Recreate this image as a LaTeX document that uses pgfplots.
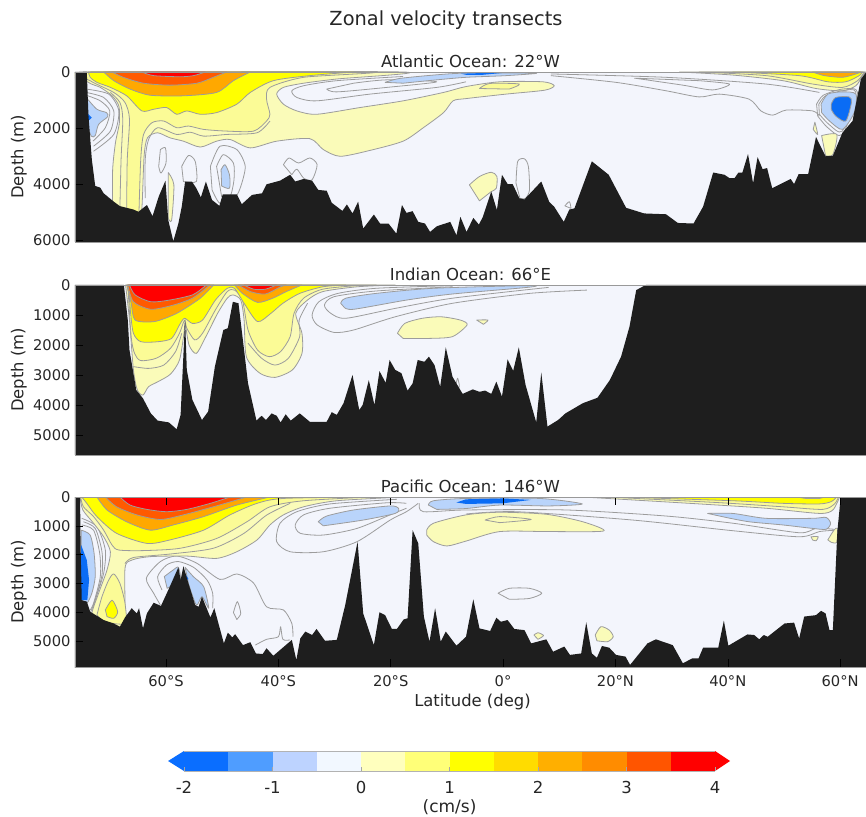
\documentclass[border=0pt]{standalone}
\usepackage{fontspec}
\setmainfont{DejaVu Sans}
\usepackage{pgfplots}
\pgfplotsset{compat=1.18}
\definecolor{bgc}{HTML}{F3F5FC}
\definecolor{yA}{HTML}{FAFBB9}
\definecolor{yB}{HTML}{FBFB96}
\definecolor{yC}{HTML}{FFFF00}
\definecolor{oA}{HTML}{FFA800}
\definecolor{oB}{HTML}{FF5A00}
\definecolor{rA}{HTML}{FF0000}
\definecolor{bA}{HTML}{B9D4FB}
\definecolor{bB}{HTML}{0A6CF5}
\definecolor{land}{HTML}{1E1E1E}
\definecolor{cont}{HTML}{9C9C9C}
\definecolor{txt}{HTML}{262626}
\newcommand{\reg}[2]{\addplot[forget plot,smooth,tension=0.45,fill=#1,draw=cont,line width=0.8pt,line join=round] coordinates {#2} -- cycle;}
\newcommand{\ctr}[1]{\addplot[forget plot,smooth,tension=0.45,draw=cont,line width=0.8pt,line join=round] coordinates {#1};}
\newcommand{\closedctr}[1]{\addplot[forget plot,smooth,tension=0.45,draw=cont,line width=0.8pt,line join=round] coordinates {#1} -- cycle;}
\newcommand{\landreg}[1]{\addplot[forget plot,fill=land,draw=none] coordinates {#1} -- cycle;}
\newcommand{\cell}[3]{\addplot[forget plot,fill=#1,draw=none] coordinates {(#2,0) (#3,0) (#3,1) (#2,1)} -- cycle;}
\pgfplotsset{
  panel/.style={
    scale only axis, width=791pt, height=170pt,
    xmin=-76.2, xmax=64.6, ymin=0, y dir=reverse,
    axis on top,
    axis background/.style={fill=bgc},
    axis line style={draw=gray!80,line width=0.6pt},
    tick style={draw=black,line width=0.5pt},
    tick align=inside, major tick length=8pt,
    ytick pos=left,
    scaled y ticks=false,
    /pgf/number format/1000 sep={},
    /pgf/number format/assume math mode=true,
    tick label style={font=\fontsize{14.7}{16}\selectfont,text=txt},
    label style={font=\fontsize{16.4}{18}\selectfont,text=txt},
    title style={font=\fontsize{16.5}{18}\selectfont,text=txt,yshift=-5.5pt},
    ylabel={Depth (m)},
    ylabel style={at={(axis description cs:-0.071,0.5)},anchor=center},
    yticklabel style={xshift=-1pt},
  }
}
\begin{document}
\begin{tikzpicture}
\path[use as bounding box] (0,0) rectangle (866pt,816pt);
\node[font=\fontsize{19.4}{21}\selectfont,text=txt] at (446pt,796pt) {Zonal velocity transects};

%%%%%%%%%%%%%%%% ATLANTIC
\begin{axis}[panel, at={(75pt,574pt)}, anchor=south west, ymax=6070,
  title={Atlantic Ocean: 22°W}, xtick=\empty, ytick={0,2000,4000,6000}]
\reg{yA}{(-69.5,4810)(-69.5,3490)(-69.0,2530)(-68.3,1810)(-68.4,1210)(-69.6,850)(-71.7,550)(-73.8,370)(-74.1,0)(-17.8,0)(-29.6,250)(-35.5,400)(-39.1,550)(-40.3,790)(-39.1,1150)(-36.7,1390)(-33.2,1510)(-25.5,1270)(-17.8,1030)(-10.6,730)(-6.6,520)(-0.6,350)(7.1,350)(9.1,490)(7.4,650)(0.5,790)(-6.6,950)(-8.9,1030)(-10.6,1450)(-14.2,1990)(-17.8,2470)(-23.7,2800)(-29.0,3010)(-32.0,2770)(-34.4,2380)(-40.3,2470)(-45.0,2710)(-48.6,2410)(-51.0,2470)(-53.9,2680)(-56.9,2470)(-59.3,2350)(-61.5,2170)(-63.3,2350)(-63.9,3010)(-64.3,4870)(-64.9,5100)(-69.5,5100)}
\ctr{(-68.2,4810)(-68.0,3130)(-67.7,1690)(-68.2,1090)(-69.9,730)}
\reg{yA}{(-59.6,3590)(-58.6,4030)(-59.0,5290)(-59.6,5230)}
\reg{yB}{(-67.0,4870)(-66.9,3130)(-66.5,1690)(-67.3,1090)(-69.3,730)(-73.5,310)(-74.1,0)(-23.7,0)(-35.5,190)(-41.5,550)(-42.1,970)(-41.5,1510)(-42.1,1750)(-44.4,2110)(-49.2,2110)(-53.3,2050)(-56.0,1930)(-58.1,1990)(-60.4,1750)(-62.5,1810)(-64.0,2230)(-64.5,3130)(-64.8,4930)(-64.8,5100)(-67.0,5100)}
\ctr{(-63.7,4500)(-63.7,3130)(-63.1,2410)(-61.5,1990)(-58.1,2230)(-55.7,2150)(-53.3,2290)(-49.2,2230)(-43.8,2170)(-41.5,1750)}
\reg{yC}{(-73.8,0)(-73.5,190)(-72.3,370)(-69.9,550)(-67.0,850)(-64.3,1390)(-62.2,1330)(-59.9,1270)(-58.1,1510)(-56.3,1390)(-53.9,1510)(-51.0,1450)(-47.4,1150)(-45.0,730)(-40.9,310)(-34.4,130)(-26.6,0)}
\reg{oA}{(-71.1,0)(-69.3,310)(-66.4,610)(-62.8,830)(-56.9,850)(-51.0,730)(-48.0,310)(-45.0,0)}
\reg{oB}{(-69.6,0)(-67.6,190)(-64.0,400)(-59.3,470)(-54.5,400)(-51.6,190)(-49.2,0)}
\reg{rA}{(-64.3,0)(-62.2,130)(-57.5,170)(-55.1,130)(-53.0,0)}
\ctr{(-6.6,350)(-11.8,550)(-23.7,790)(-33.2,1030)(-36.7,910)(-37.6,670)(-35.5,490)(-29.6,310)(-17.8,160)}
\closedctr{(-31.4,610)(-29.6,710)(-20.7,550)(-11.8,350)(-20.7,280)(-26.6,400)}
\reg{bA}{(-21.0,370)(-18.4,230)(-11.8,100)(-6.6,40)(5.9,40)(0.5,130)(-6.6,190)(-11.8,280)(-17.8,400)}
\addplot[forget plot,fill=bB,draw=none] coordinates {(-7.5,60)(1.1,10)(-3.6,100)(-6.6,100)} -- cycle;
\reg{yB}{(-4.2,590)(-2.4,410)(2.9,430)(1.1,610)}
\ctr{(-74.2,610)(-70.2,790)(-68.4,1390)(-69.3,2230)(-72.9,2830)}
\ctr{(-74.2,730)(-71.1,910)(-69.3,1390)(-69.9,2110)(-72.9,2650)}
\ctr{(-74.2,830)(-71.7,1030)(-70.0,1390)(-70.8,1990)(-73.0,2470)}
\reg{bA}{(-74.2,910)(-72.3,1330)(-70.6,1450)(-70.4,1600)(-72.0,1870)(-72.6,2270)(-73.3,2290)(-74.2,1810)}
\addplot[forget plot,fill=bB,draw=none] coordinates {(-74.2,1430)(-73.2,1630)(-74.2,1810)} -- cycle;
\closedctr{(-61.0,2770)(-60.1,2710)(-60.0,3250)(-60.9,3610)(-61.3,3370)}
\closedctr{(-57.2,3370)(-56.0,2980)(-54.8,3190)(-54.6,3910)(-56.9,3910)}
\closedctr{(-52.1,3370)(-50.4,2650)(-47.4,2770)(-45.9,3370)(-46.8,4150)(-48.0,4570)(-50.4,4690)(-51.8,4210)}
\closedctr{(-51.0,3370)(-49.8,2950)(-48.0,3250)(-47.9,3850)(-48.6,4450)(-50.1,4450)}
\reg{bA}{(-50.2,3490)(-49.5,3310)(-48.7,3670)(-48.7,4150)(-50.1,4070)}
\closedctr{(-39.1,3310)(-38.1,3070)(-36.4,3250)(-34.4,3070)(-33.1,3310)(-34.0,3850)(-35.5,3790)(-36.7,3470)(-37.6,3670)}
\ctr{(8.5,70)(29,190)(46.8,430)(56.3,730)}
\ctr{(8.5,130)(20.1,370)(29.0,670)(34.9,890)(38.5,790)(43.8,970)(45.9,1390)(48.0,1540)(50.4,1360)(55.1,1390)(56.3,1570)}
\closedctr{(23.4,220)(32.0,470)(37.3,640)(40.3,430)(34.9,310)}
\reg{yA}{(31.4,0)(40.9,110)(49.8,310)(55.7,590)(60.4,670)(62.8,490)(64.0,130)(64.6,0)}
\reg{yB}{(34.9,0)(46.8,130)(55.1,430)(60.4,550)(63.1,310)(64.3,0)}
\reg{yC}{(40.9,0)(52.7,130)(57.8,350)(61.0,350)(63.4,130)(64.0,0)}
\reg{oA}{(55.1,0)(57.2,130)(60.4,190)(62.8,70)(63.7,0)}
\closedctr{(55.8,1150)(57.0,830)(60.4,610)(63.1,730)(60.4,2230)(57.8,1990)(56.0,1570)}
\closedctr{(56.2,1150)(57.4,850)(60.4,670)(62.8,730)(60.4,2110)(58.0,1870)(56.3,1510)}
\reg{bA}{(56.6,1150)(57.8,790)(60.4,710)(62.8,790)(62.5,1450)(60.4,2050)(58.1,1750)(56.7,1450)}
\reg{bB}{(58.4,1150)(59.2,910)(61.6,890)(62.0,1090)(61.0,1750)(59.2,1570)(58.4,1330)}
\reg{yA}{(55.5,1790)(56.0,2230)(55.2,2050)}
\reg{yA}{(56.7,2270)(59.4,2230)(58.7,2950)(57.4,2990)}
\closedctr{(2.3,3970)(2.6,3190)(3.8,3100)(4.5,3370)(4.7,4210)(4.0,4510)(3.0,4510)}
\reg{yA}{(-6.0,4030)(-4.2,3730)(-2.1,3580)(-1.1,3730)(-1.2,4150)(-2.1,4270)(-4.2,4600)}
\closedctr{(11.0,4780)(11.8,4630)(12.1,4870)}
\landreg{(-76.2,6200)(-76.2,0)(-74.1,0)(-73.8,1570)(-73.2,3130)(-72.6,4070)(-71.7,4130)(-71.1,4330)(-69.3,4630)(-68.2,4790)(-65.8,4910)(-64.9,4990)(-63.4,4750)(-62.4,5150)(-61.3,4450)(-60.1,3880)(-59.6,5290)(-58.7,6040)(-57.8,5410)(-57.2,4810)(-56.6,3910)(-55.4,3910)(-54.6,4150)(-53.8,4480)(-52.9,3910)(-51.8,4570)(-50.5,4780)(-49.9,4370)(-47.4,4370)(-46.5,4720)(-44.7,4390)(-42.9,4330)(-42.1,4010)(-39.7,3880)(-37.9,3670)(-37.0,3910)(-35.5,3820)(-34.0,3880)(-32.9,4210)(-31.4,4240)(-30.5,4670)(-28.6,4960)(-27.8,4730)(-26.8,5050)(-25.8,4630)(-24.9,5590)(-23.0,5090)(-21.9,5410)(-20.4,5410)(-19.0,5770)(-18.0,4750)(-17.2,5030)(-16.1,4970)(-15.1,5350)(-13.9,5410)(-13.0,5710)(-11.8,5510)(-9.4,5350)(-8.3,5830)(-7.6,5170)(-6.5,5710)(-5.3,5210)(-4.3,5450)(-3.6,5170)(-2.1,4270)(-1.1,4930)(-0.2,3670)(0.8,4000)(1.7,4000)(2.9,4510)(3.8,4550)(6.8,3910)(8.2,4630)(9.1,4810)(10.8,5350)(11.8,4910)(12.7,4870)(15.8,3190)(18.8,3670)(21.9,4850)(25.1,5050)(29.0,5080)(31.1,5390)(33.9,5410)(35.6,4810)(37.4,3590)(39.4,3670)(40.3,3790)(41.2,3790)(41.9,3590)(42.6,3590)(43.6,2930)(44.5,3970)(45.3,3040)(46.2,3470)(47.0,3430)(47.9,4150)(51.2,3820)(51.8,4000)(52.6,3650)(54.3,3650)(55.7,2320)(57.4,3010)(58.7,2990)(60.4,2170)(62.2,1750)(63.7,250)(64.6,10)(64.7,6200)}
\end{axis}

%%%%%%%%%%%%%%%% INDIAN
\begin{axis}[panel, at={(75pt,361pt)}, anchor=south west, ymax=5667,
  title={Indian Ocean: 66°E}, xtick=\empty, ytick={0,1000,2000,3000,4000,5000}]
\ctr{(8.1,80)(-9.0,440)(-19.2,780)(-28.0,1110)(-30.7,940)(-31.8,670)(-30.1,390)(-22.6,200)(-9.0,60)}
\ctr{(14.9,170)(4.7,280)(-9.0,610)(-19.2,1060)(-26.6,1500)(-30.1,1580)(-33.1,1330)(-34.0,1000)(-32.8,560)(-29.4,280)(-22.6,110)(-9.0,20)}
\reg{yA}{(-67.2,0)(-66.5,1170)(-65.8,2830)(-65.1,3500)(-64.1,3670)(-63.1,3390)(-61.4,3220)(-59.2,2970)(-57.6,2500)(-56.8,1610)(-56.6,1280)(-55.9,2000)(-54.6,2280)(-52.9,1720)(-50.8,940)(-49.1,440)(-48.1,330)(-46.7,500)(-46.1,1170)(-45.7,2390)(-43.3,2940)(-40.6,3080)(-37.5,2830)(-35.8,2280)(-35.8,1610)(-36.9,940)(-34.8,500)(-32.1,220)(-26.0,60)(-19.2,0)}
\ctr{(-65.8,2720)(-63.1,2780)(-60.4,2670)(-58.3,2220)(-57.2,1610)}
\ctr{(-45.4,1940)(-43.0,2440)(-40.6,2670)(-38.2,2440)(-36.2,1720)(-36.3,1170)(-34.8,610)}
\reg{yB}{(-66.8,0)(-66.2,1720)(-65.6,2280)(-64.5,2520)(-61.7,2440)(-59.2,2110)(-57.6,1610)(-56.7,1170)(-56.3,1440)(-54.9,1830)(-53.5,1610)(-51.2,830)(-49.1,220)(-47.8,170)(-46.4,500)(-45.4,1500)(-43.7,2170)(-41.6,2390)(-39.6,2220)(-37.9,1720)(-37.2,940)(-35.5,440)(-32.1,140)(-26.0,20)(-22.6,0)}
\reg{yC}{(-66.7,0)(-66.3,940)(-65.8,1610)(-64.5,1890)(-61.4,1890)(-59.0,1780)(-57.6,1330)(-56.7,1110)(-55.3,1280)(-53.5,1170)(-51.2,500)(-49.1,110)(-47.8,110)(-46.1,610)(-43.7,1220)(-41.3,940)(-39.2,610)(-36.2,280)(-32.1,60)(-28.0,0)}
\reg{oA}{(-67.0,0)(-66.2,610)(-65.5,1170)(-62.1,1220)(-58.7,1000)(-56.6,780)(-53.9,440)(-51.5,0)}
\reg{oA}{(-47.8,0)(-46.4,280)(-43.7,580)(-41.0,440)(-38.6,220)(-35.8,0)}
\reg{oB}{(-66.8,0)(-65.8,560)(-62.7,810)(-58.7,670)(-55.3,440)(-52.9,110)(-52.2,0)}
\reg{oB}{(-47.1,0)(-45.0,220)(-42.3,300)(-39.6,60)(-38.6,0)}
\reg{rA}{(-66.5,0)(-65.5,330)(-62.7,560)(-59.3,500)(-55.3,330)(-53.2,60)(-52.9,0)}
\reg{rA}{(-46.1,0)(-44.4,140)(-42.3,140)(-40.3,0)}
\reg{bA}{(-28.9,610)(-28.0,440)(-22.6,280)(-12.4,110)(4.7,20)(4.3,80)(-9.0,300)(-17.1,500)(-26.6,810)(-28.3,740)}
\reg{yA}{(-18.8,1610)(-17.5,1280)(-14.4,1110)(-11.0,1060)(-7.6,1170)(-6.4,1330)(-9.0,1720)(-13.0,1780)(-17.8,1780)}
\reg{yA}{(-4.7,1170)(-2.7,1170)(-3.5,1310)}
\closedctr{(-8.4,3330)(-8.1,3110)(-7.8,3330)(-7.9,3480)}
\landreg{(-76.2,5800)(-76.2,0)(-67.5,0)(-66.8,1170)(-66.5,2170)(-65.3,3500)(-64.1,3780)(-62.7,4280)(-61.5,4520)(-59.5,4580)(-58.1,4810)(-57.4,4330)(-56.6,1110)(-56.3,2830)(-55.3,3830)(-53.6,4500)(-52.5,4220)(-51.3,2720)(-49.8,1500)(-49.0,1440)(-48.1,560)(-47.1,610)(-46.1,2170)(-45.4,3280)(-43.9,4520)(-43.0,4360)(-42.2,4500)(-41.2,4280)(-40.3,4360)(-39.6,4580)(-38.7,4310)(-37.8,4520)(-36.2,4280)(-34.4,4560)(-31.4,4560)(-30.5,4240)(-29.6,4330)(-28.4,3940)(-26.8,3000)(-25.6,4170)(-25.0,4000)(-23.9,3170)(-22.9,4000)(-22.0,2870)(-20.9,3260)(-20.2,2500)(-19.2,2830)(-18.1,2940)(-17.0,3520)(-16.1,3280)(-15.2,2500)(-14.0,2560)(-13.2,2390)(-12.2,2670)(-11.2,3390)(-10.2,2080)(-9.0,3060)(-7.2,3630)(-5.4,3480)(-4.2,3560)(-3.2,3520)(-2.1,3630)(-1.2,3220)(-0.2,3720)(0.8,2480)(1.8,2860)(2.8,2080)(4.0,3330)(5.9,4580)(6.8,2920)(7.9,4720)(9.8,4500)(11.1,4280)(14.2,3940)(16.8,3760)(19.0,3170)(21.0,2390)(22.5,1390)(23.7,170)(25.4,0)(64.7,0)(64.7,5800)}
\end{axis}

%%%%%%%%%%%%%%%% PACIFIC
\begin{axis}[panel, at={(75pt,149pt)}, anchor=south west, ymax=5900,
  title={Pacific Ocean: 146°W}, ytick={0,1000,2000,3000,4000,5000},
  xtick={-60,-40,-20,0,20,40,60},
  xticklabels={60°S,40°S,20°S,0°,20°N,40°N,60°N},
  xlabel={Latitude (deg)}, xlabel style={yshift=-0.5pt,xshift=2pt}, xticklabel style={yshift=-5pt}]
\ctr{(-14.9,220)(-14.2,510)(-6.6,450)(11.2,450)(29,660)(40.9,910)(52.7,1240)(55.7,1090)(58.9,1120)}
\ctr{(-6.6,590)(2.3,510)(23.1,800)(40.9,1170)(52.7,1380)(56.3,1200)(59.3,1150)}
\ctr{(-15.1,220)(-17.2,510)(-20.1,800)(-26.0,1550)(-32.0,1900)(-37.9,1900)(-40.3,1550)(-39.7,910)(-36.7,510)(-30.8,240)(-18.9,80)}
\ctr{(-17.2,390)(-20.1,620)(-26.0,1090)(-32.0,1320)(-36.1,1260)(-37.0,970)(-35.5,620)(-30.8,390)(-20.7,200)(-17.2,220)}
\ctr{(-61.0,3750)(-62.2,3340)(-63.5,2820)(-61.0,2240)(-58.1,2050)(-54.5,2300)(-50.4,2860)(-47.4,2670)(-44.4,2990)(-42.1,3810)(-39.1,3920)(-37.6,4390)(-37.4,4850)}
\ctr{(-60.7,3230)(-61.5,2770)(-59.9,2360)(-57.8,2240)(-55.1,2440)(-52.7,2880)(-51.7,3340)(-51.7,3860)}
\ctr{(-44.1,5140)(-42.1,4940)(-40.0,4850)(-39.6,4500)(-39.2,4940)(-37.9,4960)}
\closedctr{(-48.0,4010)(-47.3,3630)(-46.7,4040)(-47.4,4250)}
\ctr{(-75.0,740)(-72.3,1030)(-70.8,1840)(-71.1,2650)(-72.6,3580)(-73.2,4040)}
\ctr{(-74.7,860)(-72.6,1090)(-71.4,1900)(-71.4,2710)(-72.7,3630)(-73.4,3980)}
\ctr{(-75.0,970)(-72.9,1150)(-71.8,1960)(-71.7,2770)(-72.9,3690)(-73.5,3920)}
\reg{yA}{(-75.3,0)(-74.8,450)(-72.9,910)(-71.1,1380)(-69.9,1900)(-70.5,2530)(-72.0,3340)(-73.2,4100)(-71.1,4330)(-68.2,4560)(-67.3,4330)(-67.3,2480)(-66.1,2190)(-62.8,2070)(-56.3,2050)(-51.0,2130)(-47.4,1900)(-43.8,1490)(-41.5,970)(-39.1,620)(-35.5,340)(-29.6,130)(-17.8,0)}
\ctr{(-67.3,2310)(-65.8,2100)(-59.3,1980)(-51.6,1780)(-46.2,1270)(-42.1,630)(-37.9,220)}
\reg{yB}{(-75.2,0)(-74.7,340)(-72.9,680)(-71.1,1150)(-69.6,1670)(-68.4,1840)(-64.0,1860)(-57.5,1780)(-51.0,1440)(-45.6,860)(-41.5,340)(-35.5,130)(-23.7,0)}
\reg{yB}{(-72.3,4100)(-71.4,3460)(-70.2,2880)(-69.3,2670)(-68.2,3000)(-67.3,3690)(-67.3,4390)(-71.1,4330)}
\reg{yC}{(-70.8,3920)(-69.6,3580)(-68.6,3980)(-69.3,4210)(-70.5,4150)}
\reg{yC}{(-75.0,0)(-74.1,220)(-72.3,680)(-68.8,1260)(-63.4,1610)(-59.3,1490)(-53.3,1150)(-48.6,620)(-43.8,220)(-39.1,50)(-24.9,0)}
\reg{oA}{(-72.3,0)(-70.5,450)(-67.0,860)(-62.8,1150)(-58.7,970)(-53.3,680)(-47.4,280)(-41.5,0)}
\reg{oB}{(-70.8,0)(-68.8,340)(-65.2,620)(-61.0,780)(-56.9,620)(-51.6,340)(-45.6,0)}
\reg{rA}{(-68.2,0)(-66.4,280)(-63.4,430)(-59.9,510)(-56.3,430)(-52.1,220)(-48.6,0)}
\reg{bA}{(-75.1,1150)(-73.5,1320)(-72.8,1960)(-72.6,2770)(-73.2,3340)(-74.1,3690)(-75.1,3580)}
\addplot[forget plot,fill=bB,draw=none] coordinates {(-75.1,1670)(-74.1,2190)(-73.7,2880)(-74.0,3580)(-75.1,3580)} -- cycle;
\reg{bA}{(-32.9,860)(-31.4,660)(-26.6,450)(-20.1,310)(-18.6,390)(-19.2,570)(-24.9,800)(-32.0,1000)}
\reg{bA}{(-60.3,2760)(-58.7,2530)(-57.8,2440)(-57.5,2880)(-59.8,3170)}
\reg{bA}{(-56.6,2440)(-55.1,2770)(-53.3,3110)(-52.4,3860)(-53.6,3460)(-54.6,3750)(-56.0,3000)}
\addplot[forget plot,fill=bB,draw=none] coordinates {(-56.6,2650)(-56.0,2850)(-56.5,2880)} -- cycle;
\reg{yA}{(-13.6,1150)(-12.4,910)(-6.6,620)(-0.6,530)(7.7,600)(14.2,860)(17.9,1180)(8.2,1200)(-0.6,1200)(-6.6,1530)(-10.0,1700)(-12.4,1550)(-13.6,1320)}
\closedctr{(-3.2,800)(-0.6,680)(5.0,780)(-0.6,890)}
\reg{bA}{(-13.3,280)(-12.4,130)(-6.6,50)(6.5,50)(14.1,240)(8.2,310)(-0.6,280)(-6.6,400)(-11.8,430)}
\addplot[forget plot,fill=bB,draw=none] coordinates {(-8.3,190)(-6.6,80)(-0.1,50)(5.0,100)(-0.1,220)(-6.6,240)} -- cycle;
\reg{bA}{(36.4,570)(40.9,570)(46.8,740)(55.1,740)(57.5,710)(58.3,920)(57.5,1120)(55.1,1090)(49.8,970)(43.8,860)(39.7,710)}
\reg{yA}{(14.2,0)(34.9,240)(46.8,390)(56.3,570)(58.7,450)(59.9,0)}
\reg{yB}{(18.3,0)(37.9,190)(49.8,340)(56.9,430)(59.0,240)(59.7,0)}
\reg{yC}{(20.7,0)(40.9,130)(49.8,220)(56.3,240)(58.4,160)(59.4,0)}
\reg{oA}{(52.4,0)(53.9,50)(56.3,50)(57.2,0)}
\reg{yA}{(54.8,1380)(56.1,1380)(55.7,1520)(55.1,1490)}
\reg{yA}{(57.8,1490)(58.9,1150)(59.5,1090)(59.4,1570)(58.4,1570)}
\closedctr{(-0.9,3340)(1.1,3170)(4.7,3170)(6.9,3340)(4.7,3520)(1.1,3550)}
\reg{yA}{(5.5,4790)(6.2,4710)(7.2,4810)(6.2,4940)}
\reg{yA}{(16.4,4790)(17.4,4500)(18.9,4620)(19.6,4850)(18.6,5020)(16.7,4990)}
\landreg{(-76.2,6000)(-76.2,0)(-75.3,0)(-75.2,1720)(-75.0,3580)(-74.1,3630)(-73.5,3980)(-71.1,4270)(-69.3,4390)(-68.2,4500)(-67.3,4180)(-66.1,3860)(-65.2,4040)(-64.8,3860)(-64.1,4560)(-63.4,4040)(-62.2,3670)(-60.9,3780)(-59.6,3230)(-57.8,2440)(-57.4,2880)(-56.9,2400)(-56.0,3000)(-54.8,3750)(-54.2,3810)(-53.6,3460)(-52.1,4180)(-51.4,3860)(-49.7,5080)(-49.0,4710)(-48.2,4870)(-47.7,4760)(-46.3,5140)(-45.0,5040)(-44.0,5430)(-42.8,5450)(-42.1,5250)(-40.9,5510)(-39.7,5310)(-37.6,4960)(-36.8,5660)(-36.1,4910)(-35.2,4670)(-34.0,4790)(-33.2,4580)(-31.7,4990)(-29.6,4960)(-28.1,3750)(-25.9,1550)(-24.9,4040)(-23.0,5140)(-22.0,4000)(-21.0,4100)(-19.8,4580)(-18.9,4580)(-17.7,4250)(-17.0,4210)(-16.1,1150)(-15.1,1610)(-14.1,4150)(-13.1,5020)(-12.1,3860)(-11.1,5020)(-10.2,4670)(-8.3,5160)(-6.6,4850)(-5.3,3550)(-4.2,4560)(-2.3,4650)(-1.2,4190)(-0.4,4330)(0.8,4270)(2.0,4580)(3.8,4620)(5.0,5080)(7.7,4940)(8.9,5370)(10.9,5190)(11.9,5480)(13.9,5430)(14.8,4350)(15.8,5430)(16.7,5580)(17.6,5170)(18.9,5230)(20.1,5480)(21.8,5540)(22.6,5830)(25.7,5080)(27.2,4940)(30.2,5140)(32.0,5770)(33.7,5600)(34.8,5600)(35.6,5230)(38.3,5230)(39.3,4290)(40.1,5160)(43.5,4770)(44.7,4790)(45.6,4940)(46.4,4790)(47.1,4850)(50.1,4390)(51.8,4360)(52.7,4910)(53.6,4150)(55.7,4100)(56.6,3950)(57.4,4040)(58.1,4620)(58.7,4620)(59.5,1200)(60.1,0)(64.7,0)(64.7,6000)}
\end{axis}

%%%%%%%%%%%%%%%% COLOURBAR
\definecolor{cbA}{HTML}{0A6EFF}\definecolor{cbB}{HTML}{4F9DFF}\definecolor{cbC}{HTML}{BDD3FF}\definecolor{cbD}{HTML}{F2F8FF}
\definecolor{cbE}{HTML}{FFFFBE}\definecolor{cbF}{HTML}{FFFF78}\definecolor{cbG}{HTML}{FFFF00}\definecolor{cbH}{HTML}{FFDC00}
\definecolor{cbI}{HTML}{FFAF00}\definecolor{cbJ}{HTML}{FF8C00}\definecolor{cbK}{HTML}{FF5500}\definecolor{cbL}{HTML}{FF0000}
\begin{axis}[at={(184pt,45pt)}, anchor=south west, scale only axis, width=531pt, height=20pt,
  xmin=-2, xmax=4, ymin=0, ymax=1, clip=false, ytick=\empty, axis on top,
  xtick={-2,-1,0,1,2,3,4}, xticklabels={-2,-1,0,1,2,3,4},
  tick style={draw=gray!70,line width=0.5pt}, tick align=inside, major tick length=4pt,
  xtick pos=bottom,
  separate axis lines, x axis line style={draw=gray!60,line width=0.5pt}, y axis line style={draw=none},
  tick label style={font=\fontsize{16.5}{18}\selectfont,text=txt},
  xticklabel style={yshift=-7pt},
  xlabel={(cm/s)}, label style={font=\fontsize{17}{19}\selectfont,text=txt},
  xlabel style={yshift=1pt}]
\addplot[forget plot,fill=cbA,draw=none] coordinates {(-2,0)(-2.18,0.5)(-2,1)} -- cycle;
\addplot[forget plot,fill=cbL,draw=none] coordinates {(4,0)(4.17,0.5)(4,1)} -- cycle;
\cell{cbA}{-2}{-1.5}\cell{cbB}{-1.5}{-1}\cell{cbC}{-1}{-0.5}\cell{cbD}{-0.5}{0}
\cell{cbE}{0}{0.5}\cell{cbF}{0.5}{1}\cell{cbG}{1}{1.5}\cell{cbH}{1.5}{2}
\cell{cbI}{2}{2.5}\cell{cbJ}{2.5}{3}\cell{cbK}{3}{3.5}\cell{cbL}{3.5}{4}
\end{axis}
\end{tikzpicture}
\end{document}
